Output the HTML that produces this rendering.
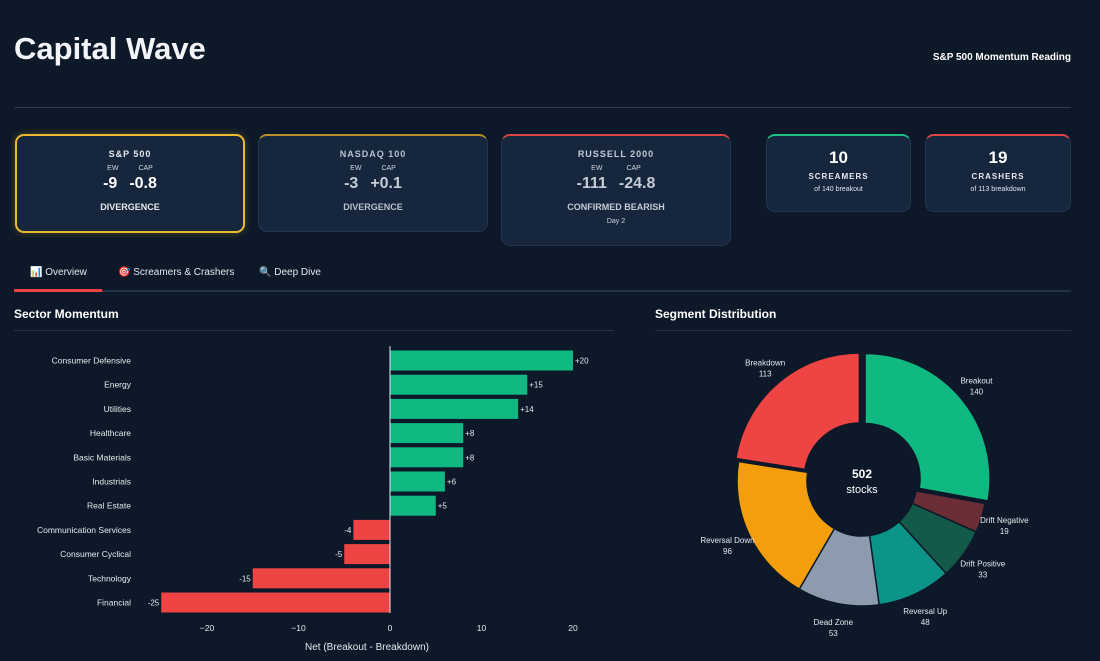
<!DOCTYPE html>
<html><head><meta charset="utf-8">
<style>
*{box-sizing:border-box;margin:0;padding:0}
body{width:1100px;height:661px;background:#0d1828;font-family:"Liberation Sans",sans-serif;color:#fff;position:relative;overflow:hidden}
.abs{position:absolute}
.card{position:absolute;background:#16263d;border:1px solid #23354f;border-radius:9px;text-align:center}
.t{font-size:9px;font-weight:bold;letter-spacing:1px;color:#e6e9ee}
.sm{font-size:7px;color:#cfd5de}
.big{font-size:16px;font-weight:bold}
</style></head><body>
<div class="abs" style="left:14px;top:31px;font-size:31px;font-weight:bold;color:#f2f4f7">Capital Wave</div>
<div class="abs" style="right:29px;top:52px;font-size:10px;font-weight:bold">S&amp;P 500 Momentum Reading</div>
<div class="abs" style="left:14px;top:107px;width:1057px;height:1px;background:#2a3a50"></div>

<div class="card" style="left:15px;top:134px;width:230px;height:99px;border:2px solid #e9b930;box-shadow:0 0 8px rgba(233,185,48,.3)">
<div class="t" style="margin-top:13px">S&amp;P 500</div>
<div class="sm" style="margin-top:6px"><span style="margin-right:20px">EW</span><span>CAP</span></div>
<div class="big" style="margin-top:3px"><span style="margin-right:12px">-9</span>-0.8</div>
<div class="t" style="margin-top:9px;letter-spacing:0">DIVERGENCE</div></div>

<div class="card" style="left:258px;top:134px;width:230px;height:98px;border-top:2px solid #b88d2a">
<div class="t" style="margin-top:13px;color:#b9c1cc">NASDAQ 100</div>
<div class="sm" style="margin-top:6px"><span style="margin-right:20px">EW</span><span>CAP</span></div>
<div class="big" style="margin-top:3px;color:#c5ccd6"><span style="margin-right:12px">-3</span>+0.1</div>
<div class="t" style="margin-top:9px;letter-spacing:0;color:#b9c1cc">DIVERGENCE</div></div>

<div class="card" style="left:501px;top:134px;width:230px;height:112px;border-top:2px solid #d94444">
<div class="t" style="margin-top:13px;color:#c5ccd6">RUSSELL 2000</div>
<div class="sm" style="margin-top:6px"><span style="margin-right:24px">EW</span><span>CAP</span></div>
<div class="big" style="margin-top:3px;color:#c5ccd6"><span style="margin-right:12px">-111</span>-24.8</div>
<div class="t" style="margin-top:9px;letter-spacing:0;color:#c5ccd6">CONFIRMED BEARISH</div>
<div class="sm" style="margin-top:6px">Day 2</div></div>

<div class="card" style="left:766px;top:134px;width:145px;height:78px;border-top:2px solid #1dbf86">
<div style="font-size:17px;font-weight:bold;margin-top:12px">10</div>
<div class="t" style="font-size:8px;margin-top:4px">SCREAMERS</div>
<div class="sm" style="margin-top:5px;color:#e0e4ea">of 140 breakout</div></div>

<div class="card" style="left:925px;top:134px;width:146px;height:78px;border-top:2px solid #e04545">
<div style="font-size:17px;font-weight:bold;margin-top:12px">19</div>
<div class="t" style="font-size:8px;margin-top:4px">CRASHERS</div>
<div class="sm" style="margin-top:5px;color:#e0e4ea">of 113 breakdown</div></div>

<div class="abs" style="left:14px;top:290px;width:1057px;height:2px;background:#243247"></div>
<div class="abs" style="left:14px;top:289px;width:88px;height:3px;background:#ef4444"></div>
<div class="abs" style="left:30px;top:267px;font-size:10px;color:#e6e9ee">📊 Overview</div>
<div class="abs" style="left:118px;top:267px;font-size:10px;color:#e6e9ee">🎯 Screamers &amp; Crashers</div>
<div class="abs" style="left:259px;top:267px;font-size:10px;color:#e6e9ee">🔍 Deep Dive</div>

<div class="abs" style="left:14px;top:307px;font-size:12px;font-weight:bold">Sector Momentum</div>
<div class="abs" style="left:14px;top:330px;width:600px;height:1px;background:#243247"></div>
<div class="abs" style="left:655px;top:307px;font-size:12px;font-weight:bold">Segment Distribution</div>
<div class="abs" style="left:655px;top:330px;width:416px;height:1px;background:#243247"></div>

<svg class="abs" style="left:0;top:0" width="1100" height="661" id="chart"></svg>
<script>
const sectors=["Consumer Defensive","Energy","Utilities","Healthcare","Basic Materials","Industrials","Real Estate","Communication Services","Consumer Cyclical","Technology","Financial"];
const netValues=[20,15,14,8,8,6,5,-4,-5,-15,-25];
const xTicks=[-20,-10,0,10,20];
const segNames=["Breakout","Drift Negative","Drift Positive","Reversal Up","Dead Zone","Reversal Down","Breakdown"];
const segValues=[140,19,33,48,53,96,113];
const segColors=["#10b981","#6b2d36","#145a4a","#0d9488","#8c9bad","#f59e0b","#ef4444"];
const segPull=[4,0,0,0,0,0,4];

const svg=document.getElementById('chart');const NS="http://www.w3.org/2000/svg";
function mk(t,a,txt){const e=document.createElementNS(NS,t);for(const k in a)e.setAttribute(k,a[k]);if(txt!=null)e.textContent=txt;svg.appendChild(e);return e;}
const x=v=>390+v*9.15;
const rowY=i=>360.5+i*24.2;
const bh=20;
sectors.forEach((s,i)=>{
 const v=netValues[i],yc=rowY(i);
 const r=mk('rect',{x:Math.min(x(0),x(v)),y:yc-bh/2,width:Math.abs(x(v)-x(0)),height:bh,fill:v>=0?'#10b981':'#ef4444'});
 
 
 const l=mk('text',{x:131,y:yc+3,'font-size':8.5,fill:'#e6e9ee','text-anchor':'end'},s);
 
 
 const vl=mk('text',{x:v>=0?x(v)+2:x(v)-2,y:yc+3,'font-size':8,fill:'#e6e9ee','text-anchor':v>=0?'start':'end'},(v>0?'+':'')+v);
 
 
});
const zl=mk('line',{x1:x(0),x2:x(0),y1:346,y2:613,stroke:'#e6e9ee','stroke-width':1});


xTicks.forEach(t=>{
 const tl=mk('text',{x:x(t),y:631,'font-size':8.5,fill:'#e6e9ee','text-anchor':'middle'},t<0?'\u2212'+(-t):t);
 
 
});
const xt=mk('text',{x:367,y:650,'font-size':10,fill:'#e6e9ee','text-anchor':'middle'},'Net (Breakout - Breakdown)');



// donut
const cx=862,cy=481,R=125,r0=55;
const total=segValues.reduce((a,b)=>a+b,0);
let ang=0;
segValues.forEach((v,i)=>{
 const a0=ang,a1=ang+v/total*2*Math.PI;ang=a1;
 const mid=(a0+a1)/2,dx=Math.sin(mid)*segPull[i],dy=-Math.cos(mid)*segPull[i];
 const P=(a,rr)=>[cx+dx+Math.sin(a)*rr,cy+dy-Math.cos(a)*rr];
 const [x0,y0]=P(a0,R),[x1,y1]=P(a1,R),[x2,y2]=P(a1,r0),[x3,y3]=P(a0,r0);
 const lg=(a1-a0)>Math.PI?1:0;
 const p=mk('path',{d:`M${x0},${y0}A${R},${R} 0 ${lg} 1 ${x1},${y1}L${x2},${y2}A${r0},${r0} 0 ${lg} 0 ${x3},${y3}Z`,fill:segColors[i],stroke:'#0d1828','stroke-width':1.5});
 
 
 const lr=R+24;const lx=cx+Math.sin(mid)*lr,ly=cy-Math.cos(mid)*lr;
 const t1=mk('text',{x:lx,y:ly-2,'font-size':8,fill:'#e6e9ee','text-anchor':'middle'},segNames[i]);
 
 
 const t2=mk('text',{x:lx,y:ly+9,'font-size':8,fill:'#e6e9ee','text-anchor':'middle'},v);
 
 
});
const c1=mk('text',{x:cx,y:478,'font-size':12,'font-weight':'bold',fill:'#fff','text-anchor':'middle'},String(total));


const c2=mk('text',{x:cx,y:493,'font-size':11,fill:'#fff','text-anchor':'middle'},'stocks');


</script>
</body></html>
